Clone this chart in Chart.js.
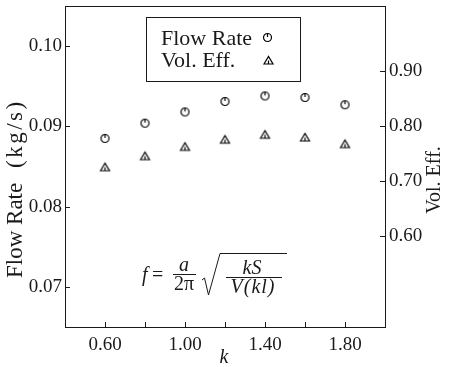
<!DOCTYPE html>
<html>
<head>
<meta charset="utf-8">
<script src="https://cdn.jsdelivr.net/npm/chart.js@4.4.0/dist/chart.umd.min.js"></script>
<style>
  html, body { margin: 0; padding: 0; background: #fff; }
</style>
</head>
<body>
<canvas id="myChart" width="451" height="367"></canvas>
<script>
// measured points
const kValues = [0.6, 0.8, 1.0, 1.2, 1.4, 1.6, 1.8];
const flowRate = [0.0885, 0.0904, 0.0918, 0.0931, 0.0938, 0.0936, 0.0927];
const volEff = [0.725, 0.745, 0.762, 0.775, 0.784, 0.779, 0.767];

// axis ticks
const kTicks = [0.6, 0.8, 1.0, 1.2, 1.4, 1.6, 1.8];
const kLabeled = [0.6, 1.0, 1.4, 1.8];
const flowTicks = [0.07, 0.08, 0.09, 0.10];
const effTicks = [0.6, 0.7, 0.8, 0.9];

const SERIF = "'Liberation Serif', 'DejaVu Serif', serif";
const INK = "#1a1a1a";

function makeMarker(kind) {
  const c = document.createElement("canvas");
  c.width = 13;
  c.height = 13;
  const g = c.getContext("2d");
  g.strokeStyle = "#000";
  g.lineWidth = 1.2;
  g.beginPath();
  if (kind === "circle") {
    g.arc(6.5, 6.5, 4, 0, Math.PI * 2);
    g.moveTo(6.5, 2.5);
    g.lineTo(6.5, 6);
  } else {
    g.moveTo(2, 10);
    g.lineTo(6.5, 2.5);
    g.lineTo(11, 10);
    g.closePath();
    g.moveTo(6.5, 6.5);
    g.lineTo(6.5, 9.5);
  }
  g.stroke();
  return c;
}

const circleMark = makeMarker("circle");
const triangleMark = makeMarker("triangle");

// keep the plot box where the axes are fixed, no label overhang padding
function fixBox(size, horizontal) {
  return s => {
    if (horizontal) {
      s.height = size;
      s.paddingLeft = 0;
      s.paddingRight = 0;
    } else {
      s.width = size;
      s.paddingTop = 0;
      s.paddingBottom = 0;
    }
  };
}

// frame, inward ticks, titles, legend box and formula
const paperPlugin = {
  id: "paper",
  afterDraw(chart) {
    const { ctx, chartArea: a, scales } = chart;
    ctx.save();
    ctx.strokeStyle = INK;
    ctx.lineWidth = 1;
    ctx.strokeRect(a.left + 0.5, a.top + 0.5, a.right - a.left, a.bottom - a.top);

    ctx.beginPath();
    scales.x.ticks.forEach(t => {
      const px = Math.round(scales.x.getPixelForValue(t.value)) + 0.5;
      ctx.moveTo(px, a.bottom);
      ctx.lineTo(px, a.bottom - 5);
    });
    scales.y.ticks.forEach(t => {
      const py = Math.round(scales.y.getPixelForValue(t.value)) + 0.5;
      ctx.moveTo(a.left, py);
      ctx.lineTo(a.left + 5, py);
    });
    scales.y1.ticks.forEach(t => {
      const py = Math.round(scales.y1.getPixelForValue(t.value)) + 0.5;
      ctx.moveTo(a.right, py);
      ctx.lineTo(a.right - 5, py);
    });
    ctx.stroke();

    ctx.fillStyle = INK;

    // axis titles
    ctx.save();
    ctx.translate(16, 278);
    ctx.rotate(-Math.PI / 2);
    ctx.textAlign = "left";
    ctx.textBaseline = "middle";
    ctx.font = "23px " + SERIF;
    ctx.fillText("Flow Rate", 0, 0);
    ctx.letterSpacing = "2.5px";
    ctx.fillText("(kg/s)", 110, 0);
    ctx.restore();

    ctx.textAlign = "center";
    ctx.textBaseline = "middle";
    ctx.save();
    ctx.translate(435, 180);
    ctx.rotate(-Math.PI / 2);
    ctx.font = "20px " + SERIF;
    ctx.fillText("Vol. Eff.", 0, 0);
    ctx.restore();

    ctx.font = "italic 20px " + SERIF;
    ctx.fillText("k", 224, 358);

    // legend
    ctx.strokeRect(146.5, 17.5, 154, 64);
    ctx.textAlign = "left";
    ctx.textBaseline = "alphabetic";
    ctx.font = "22px " + SERIF;
    ctx.fillText("Flow Rate", 161, 45);
    ctx.fillText("Vol. Eff.", 161, 67);
    ctx.drawImage(circleMark, 261, 31);
    ctx.drawImage(triangleMark, 262, 54);

    // f = a/(2π) sqrt(kS / V(kl))
    ctx.font = "italic 20px " + SERIF;
    ctx.fillText("f", 142, 281);
    ctx.font = "20px " + SERIF;
    ctx.fillText("=", 152, 281);
    ctx.textAlign = "center";
    ctx.font = "italic 20px " + SERIF;
    ctx.fillText("a", 184, 271);
    ctx.font = "20px " + SERIF;
    ctx.fillText("2\u03c0", 184, 290);
    ctx.font = "italic 20px " + SERIF;
    ctx.fillText("kS", 252, 274);
    ctx.letterSpacing = "1px";
    ctx.fillText("V(kl)", 253, 293);
    ctx.letterSpacing = "0px";

    ctx.beginPath();
    ctx.moveTo(173, 274.5);
    ctx.lineTo(196, 274.5);
    ctx.moveTo(226, 277.5);
    ctx.lineTo(282, 277.5);
    ctx.moveTo(202, 280);
    ctx.lineTo(204.5, 278);
    ctx.lineTo(208.5, 295);
    ctx.lineTo(220, 253.5);
    ctx.lineTo(287, 253.5);
    ctx.stroke();

    ctx.restore();
  }
};

const tickFont = { family: SERIF, size: 19 };

new Chart(document.getElementById("myChart"), {
  type: "scatter",
  data: {
    datasets: [
      {
        label: "Flow Rate",
        data: kValues.map((k, i) => ({ x: k, y: flowRate[i] })),
        yAxisID: "y",
        pointStyle: circleMark,
      },
      {
        label: "Vol. Eff.",
        data: kValues.map((k, i) => ({ x: k, y: volEff[i] })),
        yAxisID: "y1",
        pointStyle: triangleMark,
      },
    ],
  },
  options: {
    responsive: false,
    animation: false,
    layout: { padding: { top: 6, left: 0, right: 0, bottom: 0 } },
    plugins: {
      legend: { display: false },
      tooltip: { enabled: false },
    },
    scales: {
      x: {
        type: "linear",
        min: 0.4,
        max: 2.0,
        afterBuildTicks: s => { s.ticks = kTicks.map(v => ({ value: v })); },
        afterFit: fixBox(40, true),
        grid: { display: false, drawTicks: false },
        border: { display: false },
        ticks: {
          color: INK,
          font: tickFont,
          padding: 7,
          maxRotation: 0,
          autoSkip: false,
          callback: v => (kLabeled.includes(v) ? v.toFixed(2) : ""),
        },
      },
      y: {
        position: "left",
        min: 0.065,
        max: 0.105,
        afterBuildTicks: s => { s.ticks = flowTicks.map(v => ({ value: v })); },
        afterFit: fixBox(65, false),
        grid: { display: false, drawTicks: false },
        border: { display: false },
        ticks: { color: INK, font: tickFont, padding: 3, callback: v => v.toFixed(2) },
      },
      y1: {
        position: "right",
        min: 0.4345,
        max: 1.018,
        afterBuildTicks: s => { s.ticks = effTicks.map(v => ({ value: v })); },
        afterFit: fixBox(66, false),
        grid: { display: false, drawTicks: false },
        border: { display: false },
        ticks: { color: INK, font: tickFont, padding: 4, callback: v => v.toFixed(2) },
      },
    },
  },
  plugins: [paperPlugin],
});
</script>
</body>
</html>
